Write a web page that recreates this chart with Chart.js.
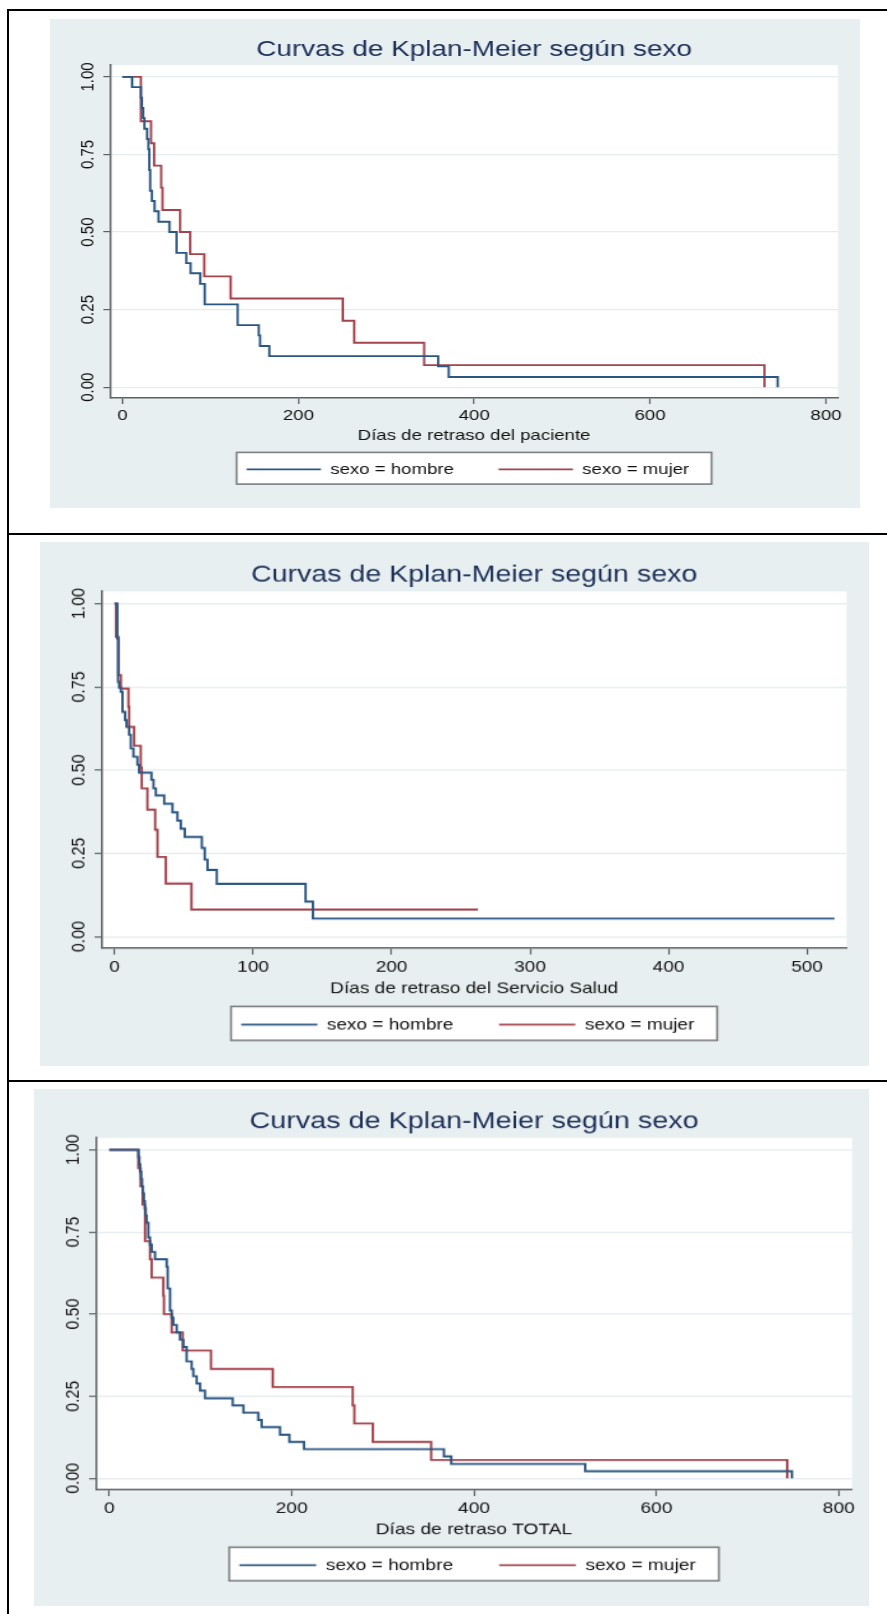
<!DOCTYPE html>
<html>
<head>
<meta charset="utf-8">
<script src="https://cdn.jsdelivr.net/npm/chart.js@4.4.1/dist/chart.umd.min.js"></script>
<style>
  html, body { margin: 0; padding: 0; background: #fff; }
  body { width: 887px; height: 1614px; position: relative; overflow: hidden; }
  .rule { position: absolute; background: #000; }
  canvas.km { position: absolute; }
</style>
</head>
<body>
<div class="rule" style="left:7px;top:9px;width:880px;height:2px"></div>
<div class="rule" style="left:7px;top:9px;width:2px;height:1605px"></div>
<div class="rule" style="left:7px;top:533px;width:880px;height:2px"></div>
<div class="rule" style="left:7px;top:1080px;width:880px;height:2px"></div>

<canvas id="kmPaciente" class="km" width="653" height="489" style="left:50px;top:19px;width:810px;height:489px"></canvas>
<canvas id="kmServicio" class="km" width="653" height="489" style="left:40px;top:542px;width:829px;height:524px"></canvas>
<canvas id="kmTotal" class="km" width="653" height="489" style="left:34px;top:1089px;width:835px;height:517px"></canvas>

<script>
// Kaplan-Meier survival estimates by sex: event times (days) and survival after each step
const pacHombreT = [0, 11, 21, 22, 23.5, 25, 28, 29.5, 30.5, 31.5, 33.5, 36.5, 41, 53.5, 61.5, 72.5, 77.5, 88.5, 93.5, 131, 155, 156.5, 167, 359, 371, 745];
const pacHombreS = [1, .967, .933, .9, .867, .833, .8, .767, .7, .633, .6, .567, .533, .5, .433, .4, .367, .333, .267, .2, .167, .133, .1, .067, .033, 0];
const pacMujerT = [0, 21, 32.5, 36, 44, 45.5, 65.5, 77, 93, 123, 250.5, 263.5, 343, 730];
const pacMujerS = [1, .857, .786, .714, .643, .571, .5, .429, .357, .286, .214, .143, .071, 0];

const serHombreT = [0, 2, 2.5, 3.3, 4.5, 5.7, 7.6, 8.6, 10.5, 11.7, 13.6, 16.5, 17.7, 26.6, 28.1, 29.8, 35.8, 41.8, 45.4, 47.8, 50.7, 63, 65.1, 67.1, 73.8, 137.9, 143.2, 519.8];
const serHombreS = [1, .895, .765, .748, .735, .675, .65, .63, .606, .565, .54, .516, .492, .471, .445, .424, .399, .373, .348, .324, .299, .266, .231, .2, .158, .105, .054, .054];
const serMujerT = [0, 1, 2.8, 4.5, 10, 10.5, 14.1, 18.9, 19.6, 23.7, 29.3, 31, 37, 55.5, 262.3];
const serMujerS = [1, .9, .785, .745, .69, .63, .573, .508, .445, .381, .321, .239, .159, .081, .081];

const totHombreT = [0, 32, 33, 34, 35, 36, 37, 38, 39, 40, 41.1, 42.9, 44.7, 46.6, 50.2, 63, 64.1, 66.7, 68.5, 70.3, 74, 77.6, 81.3, 84.9, 90.4, 92.2, 95.9, 99.6, 105, 135.4, 147.1, 163.5, 167.2, 187.3, 197.5, 213.6, 367, 375, 522, 748.6];
const totHombreS = [1, .978, .956, .933, .911, .889, .867, .844, .822, .8, .778, .733, .711, .689, .667, .644, .578, .511, .489, .467, .444, .422, .4, .356, .333, .311, .289, .267, .244, .222, .2, .178, .156, .133, .111, .089, .067, .044, .022, 0];
const totMujerT = [0, 31.9, 34.4, 36.6, 39.3, 44.7, 46.5, 59.3, 60, 68.5, 80.6, 111.6, 179.3, 267, 268.8, 289, 353, 743.5];
const totMujerS = [1, .944, .889, .833, .722, .667, .611, .556, .5, .444, .389, .333, .278, .222, .167, .111, .056, 0];

// Axis ticks
const xTicks800 = [0, 200, 400, 600, 800];
const xTicks500 = [0, 100, 200, 300, 400, 500];
const yTicks = [0, 0.25, 0.5, 0.75, 1];

const chartTitle = 'Curvas de Kplan-Meier según sexo';
const seriesNames = ['sexo = hombre', 'sexo = mujer'];

// Styling (Stata s2color look)
const FONT = '"Liberation Sans", Arial, Helvetica, sans-serif';
const NAVY = '#2a5682';
const MAROON = '#a5434c';
const BG = '#e8eff1';
const GRID = '#e4ecef';
const AXIS = '#5d6164';
const TITLE_COLOR = '#1c2f57';
const TEXT = '#111';
const LEG_FONT = 15;
const LEG_PAD = 36;

Chart.defaults.font.family = FONT;
Chart.defaults.color = TEXT;

function points(ts, ss) {
  return ts.map((t, i) => ({ x: t, y: ss[i] }));
}

// Graph region background, white plot region, framed legend, and centring
// of the title and legend over the plot region.
const stataLayout = {
  id: 'stataLayout',
  afterLayout(chart, args, opts) {
    const a = chart.chartArea;
    const cx = (a.left + a.right) / 2;
    const tb = chart.titleBlock;
    if (tb) { tb.left = a.left; tb.right = a.right; tb.width = a.right - a.left; }
    const lg = chart.legend;
    if (lg && lg.lineWidths) {
      const content = lg.lineWidths[0] - LEG_PAD;
      const frameW = content + opts.frameLeft + opts.frameRight;
      const x0 = cx - frameW / 2 + opts.frameLeft;
      lg.left = 0;
      lg.right = 2 * x0 + content;
      lg.width = lg.right;
      lg.top = opts.legendY - LEG_FONT / 2 - LEG_PAD;
      lg.bottom = opts.legendY + 30;
      lg.height = lg.bottom - lg.top;
      chart.$legendFrame = { x: x0 - opts.frameLeft, y: opts.legendY - 17, w: frameW, h: 31.7 };
    }
  },
  beforeDraw(chart) {
    const ctx = chart.ctx;
    const a = chart.chartArea;
    ctx.save();
    ctx.fillStyle = BG;
    ctx.fillRect(0, 0, chart.width, chart.height);
    ctx.fillStyle = '#fff';
    ctx.fillRect(a.left, a.top, a.right - a.left, a.bottom - a.top);
    const f = chart.$legendFrame;
    if (f) {
      ctx.fillStyle = '#fff';
      ctx.fillRect(f.x, f.y, f.w, f.h);
      ctx.strokeStyle = '#7b7f82';
      ctx.lineWidth = 1.6;
      ctx.strokeRect(f.x, f.y, f.w, f.h);
    }
    ctx.restore();
  }
};

function kmChart(id, xTitle, xTicks, xRange, yRange, rightPad, hombreT, hombreS, mujerT, mujerS) {
  const line = {
    stepped: 'before', pointRadius: 0, pointHoverRadius: 0,
    borderWidth: 1.9, fill: false, tension: 0
  };
  return new Chart(document.getElementById(id), {
    type: 'line',
    data: {
      datasets: [
        Object.assign({ label: seriesNames[0], data: points(hombreT, hombreS),
          borderColor: NAVY, backgroundColor: NAVY }, line),
        Object.assign({ label: seriesNames[1], data: points(mujerT, mujerS),
          borderColor: MAROON, backgroundColor: MAROON }, line)
      ]
    },
    plugins: [stataLayout],
    options: {
      responsive: false,
      maintainAspectRatio: false,
      animation: false,
      devicePixelRatio: 1,
      events: [],
      layout: { padding: { left: 0, right: rightPad, top: 17.6, bottom: 63.5 } },
      plugins: {
        title: {
          display: true, text: chartTitle, color: TITLE_COLOR,
          font: { size: 22.5, weight: 'normal', lineHeight: 1.2 },
          padding: { top: 0, bottom: 1.6 }
        },
        legend: {
          display: true, position: 'bottom', maxHeight: 0.001,
          labels: {
            boxWidth: 60, boxHeight: 1.9, padding: LEG_PAD, color: TEXT,
            font: { size: LEG_FONT },
            generateLabels(chart) {
              return Chart.defaults.plugins.legend.labels.generateLabels(chart)
                .map(l => Object.assign(l, { fillStyle: l.strokeStyle, lineWidth: 0 }));
            }
          }
        },
        tooltip: { enabled: false },
        stataLayout: { legendY: 450.4, frameLeft: 8, frameRight: 18 }
      },
      scales: {
        x: {
          type: 'linear', min: xRange[0], max: xRange[1],
          afterBuildTicks(axis) { axis.ticks = xTicks.map(v => ({ value: v })); },
          afterFit(scale) { scale.height = 47; },
          grid: { display: true, drawOnChartArea: false, drawTicks: true,
                  tickLength: 6.5, tickColor: AXIS, tickWidth: 1.2 },
          border: { display: true, color: AXIS, width: 1.5 },
          ticks: { padding: 2.5, font: { size: 15 }, color: TEXT, maxRotation: 0,
                   autoSkip: false, callback: v => String(v) },
          title: { display: true, text: xTitle, color: TEXT, font: { size: 15 },
                   padding: { top: 0, bottom: 0 } }
        },
        y: {
          type: 'linear', min: yRange[0], max: yRange[1],
          afterBuildTicks(axis) { axis.ticks = yTicks.map(v => ({ value: v })); },
          afterFit(scale) { scale.width = 48.5; },
          grid: { display: true, color: GRID, lineWidth: 1.2, drawTicks: true,
                  tickLength: 5.5, tickColor: AXIS, tickWidth: 1.2 },
          border: { display: true, color: AXIS, width: 1.5 },
          ticks: { minRotation: 90, maxRotation: 90, crossAlign: 'center', padding: -2,
                   font: { size: 15 }, color: TEXT, autoSkip: false,
                   callback: v => v.toFixed(2) }
        }
      }
    }
  });
}

kmChart('kmPaciente', 'Días de retraso del paciente', xTicks800, [-13.98, 813.7], [-0.0332, 1.0377], 17.7,
        pacHombreT, pacHombreS, pacMujerT, pacMujerS);
kmChart('kmServicio', 'Días de retraso del Servicio Salud', xTicks500, [-9.39, 528.6], [-0.0333, 1.0363], 17.6,
        serHombreT, serHombreS, serMujerT, serMujerS);
kmChart('kmTotal', 'Días de retraso TOTAL', xTicks800, [-14.47, 814.5], [-0.0329, 1.0363], 13.3,
        totHombreT, totHombreS, totMujerT, totMujerS);
</script>
</body>
</html>
